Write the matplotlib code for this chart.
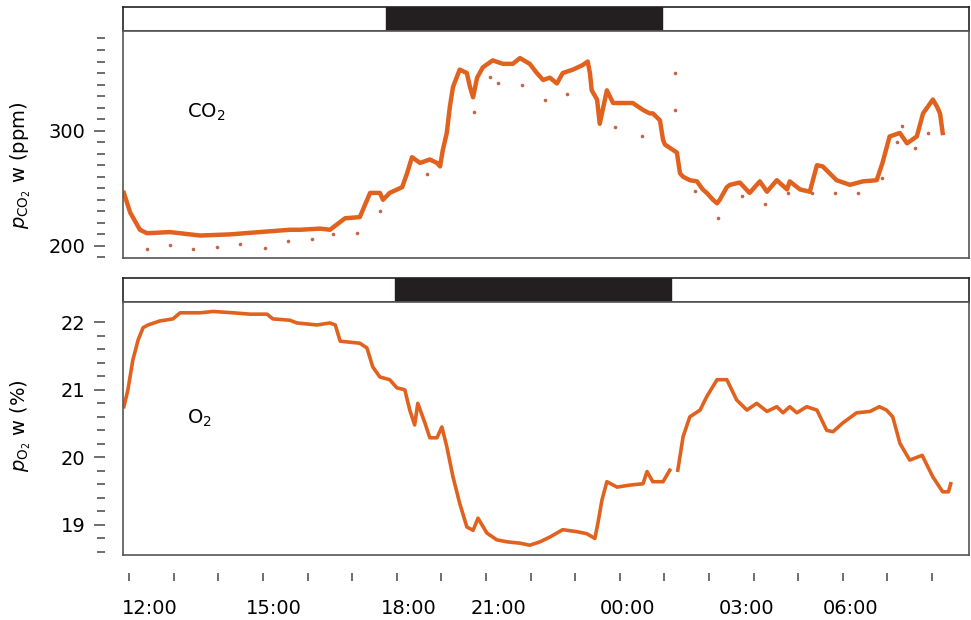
import numpy as np
import matplotlib
matplotlib.use("Agg")
import matplotlib.pyplot as plt
from matplotlib.ticker import FixedLocator

plt.rcParams['font.family'] = ['DejaVu Sans']
plt.rcParams['mathtext.fontset'] = 'dejavusans'

# x in hours, one hour per small tick on the time axis
co2_h = [-0.12, 0.02, 0.24, 0.40, 0.91, 1.59, 2.26, 2.93, 3.60, 3.83, 4.28, 4.50, 4.84,
         5.17, 5.40, 5.62, 5.69, 5.84, 6.12, 6.23, 6.34, 6.52, 6.74, 6.90, 6.97, 7.03,
         7.12, 7.19, 7.26, 7.41, 7.57, 7.64, 7.71, 7.80, 7.93, 8.15, 8.38, 8.60, 8.76,
         8.98, 9.14, 9.28, 9.43, 9.59, 9.72, 9.95, 10.17, 10.28, 10.33, 10.37, 10.49,
         10.55, 10.71, 10.85, 11.07, 11.29, 11.52, 11.67, 11.74, 11.90, 11.97, 12.01,
         12.28, 12.35, 12.42, 12.57, 12.73, 12.86, 12.95, 13.09, 13.18, 13.24, 13.40,
         13.47, 13.69, 13.91, 14.14, 14.30, 14.52, 14.75, 14.81, 15.04, 15.26, 15.42,
         15.55, 15.86, 16.16, 16.45, 16.76, 16.89, 17.05, 17.28, 17.44, 17.66, 17.80,
         18.02, 18.11, 18.18, 18.24]
co2_ppm = [246, 229, 214, 211, 212, 209, 210, 212, 214, 214, 215, 214, 224,
           225, 246, 246, 240, 246, 251, 263, 277, 272, 275, 272, 269, 283,
           298, 321, 338, 353, 350, 338, 329, 346, 355, 361, 358, 358, 363,
           358, 350, 344, 346, 341, 350, 353, 357, 360, 350, 335, 327,
           306, 335, 324, 324, 324, 318, 315, 315, 309, 292, 288,
           281, 263, 260, 257, 256, 249, 246, 240, 237, 240, 251,
           253, 255, 246, 256, 247, 257, 249, 256, 249, 247, 270,
           269, 257, 253, 256, 257, 272, 295, 298, 289, 295, 315,
           327, 321, 315, 298]

co2_out_h = [0.40, 0.91, 1.43, 1.97, 2.48, 3.04, 3.56, 4.10, 4.57, 5.10, 5.62, 6.68,
             7.73, 8.09, 8.27, 8.80, 9.32, 9.81, 10.89, 11.50, 12.24, 12.24, 13.20,
             12.68, 13.74, 14.26, 14.77, 15.30, 15.82, 16.34, 16.87, 17.21, 17.32,
             17.62, 17.91]
co2_out_ppm = [197, 201, 197, 199, 202, 198, 204, 206, 210, 211, 230, 262,
               316, 347, 341, 340, 327, 332, 303, 295, 350, 318, 224,
               248, 243, 236, 246, 246, 246, 246, 259, 290, 304,
               285, 298]

o2_h = [-0.12, -0.03, 0.08, 0.20, 0.31, 0.42, 0.69, 0.98, 1.14, 1.59, 1.88, 2.33, 2.71,
        3.09, 3.22, 3.60, 3.76, 4.21, 4.50, 4.62, 4.73, 5.17, 5.33, 5.46, 5.62, 5.84,
        6.00, 6.18, 6.29, 6.40, 6.47, 6.63, 6.74, 6.90, 7.01, 7.12, 7.26, 7.41, 7.57,
        7.71, 7.82, 8.02, 8.24, 8.47, 8.76, 8.98, 9.21, 9.43, 9.72, 10.04, 10.26,
        10.44, 10.51, 10.60, 10.71, 10.94, 11.23, 11.52, 11.61, 11.74, 11.97, 12.12,
        12.20, 12.30, 12.42, 12.57, 12.80, 12.95, 13.18, 13.40, 13.62, 13.85, 14.07,
        14.30, 14.52, 14.66, 14.81, 14.97, 15.19, 15.42, 15.64, 15.78, 16.00, 16.31,
        16.61, 16.82, 16.98, 17.12, 17.28, 17.50, 17.78, 17.87, 18.02, 18.24, 18.37,
        18.42]
o2_pct = [20.75, 21.0, 21.44, 21.74, 21.92, 21.96, 22.02, 22.05, 22.14, 22.14, 22.16,
          22.14, 22.12, 22.12, 22.05, 22.03, 21.99, 21.96, 21.99, 21.96, 21.72, 21.69,
          21.62, 21.34, 21.19, 21.15, 21.03, 21.0, 20.70, 20.48, 20.80, 20.51, 20.29,
          20.29, 20.45, 20.16, 19.71, 19.32, 18.97, 18.92, 19.10, 18.88, 18.78, 18.75,
          18.73, 18.70, 18.75, 18.82, 18.93, 18.90, 18.87, 18.80, 19.03, 19.37, 19.64,
          19.56, 19.59, 19.61, 19.79, 19.64, 19.64, 19.81, np.nan, 19.81, 20.31, 20.60,
          20.70, 20.90, 21.15, 21.15, 20.85, 20.70, 20.80, 20.68, 20.75, 20.66, 20.75,
          20.66, 20.75, 20.70, 20.40, 20.38, 20.51, 20.66, 20.68, 20.75, 20.70, 20.60,
          20.21, 19.96, 20.03, 19.91, 19.71, 19.49, 19.49, 19.61]

night_co2 = (5.76, 11.95)
night_o2 = (5.96, 12.14)

time_labels = ['12:00', '15:00', '18:00', '21:00', '00:00', '03:00', '06:00']
time_label_pos = [0.45, 3.24, 6.27, 8.29, 11.18, 13.85, 16.18]

orange = '#E0621E'
xlim = (-0.14, 18.83)

fig = plt.figure(figsize=(9.71, 6.2), dpi=100)
L, W = 123 / 971, 846 / 971


def pbox(top, bottom):
    return [L, 1 - bottom / 620, W, (bottom - top) / 620]


def night_bar(rect, night):
    bar = fig.add_axes(rect)
    bar.axvspan(night[0], night[1], color='#231f20')
    bar.set_xlim(xlim)
    bar.set_xticks([])
    bar.set_yticks([])
    for s in bar.spines.values():
        s.set_color('#222222')
        s.set_linewidth(1.2)
    return bar


def frame(ax):
    ax.set_xlim(xlim)
    ax.tick_params(left=False, bottom=False, labelleft=False, labelbottom=False)
    for s in ax.spines.values():
        s.set_color('#555555')
        s.set_linewidth(1.2)


# CO2 panel
night_bar(pbox(7, 31), night_co2)
ax1 = fig.add_axes(pbox(31, 258))
ax1.plot(co2_h, co2_ppm, color=orange, lw=3.2, solid_joinstyle='round')
ax1.plot(co2_out_h, co2_out_ppm, 'o', color='#c0654a', ms=2.6, mew=0)
ax1.set_ylim(189.5, 386.5)
frame(ax1)
ax1.text(1.29, 316, r'CO$_2$', fontsize=14, va='center', ha='left')
sy1 = ax1.secondary_yaxis(-0.0213)
sy1.spines['left'].set_visible(False)
sy1.yaxis.set_major_locator(FixedLocator([200, 300]))
sy1.yaxis.set_minor_locator(FixedLocator(list(range(190, 381, 10))))
sy1.tick_params(which='major', length=8, width=1.2, color='#555555', pad=6, labelsize=14)
sy1.tick_params(which='minor', length=6, width=1.2, color='#555555')
fig.text(21 / 971, 1 - 165 / 620, r'$p_{\mathrm{CO}_2}$ w (ppm)', rotation=90,
         ha='center', va='center', fontsize=14)

# O2 panel
night_bar(pbox(278, 302), night_o2)
ax2 = fig.add_axes(pbox(302, 555))
ax2.plot(o2_h, o2_pct, color=orange, lw=2.6)
ax2.set_ylim(18.555, 22.30)
frame(ax2)
ax2.text(1.29, 20.58, r'O$_2$', fontsize=14, va='center', ha='left')
sy2 = ax2.secondary_yaxis(-0.0213)
sy2.spines['left'].set_visible(False)
sy2.yaxis.set_major_locator(FixedLocator([19, 20, 21, 22]))
sy2.yaxis.set_minor_locator(FixedLocator([18.6, 18.8, 19.2, 19.4, 19.6, 19.8, 20.2, 20.4,
                                          20.6, 20.8, 21.2, 21.4, 21.6, 21.8]))
sy2.tick_params(which='major', length=8, width=1.2, color='#555555', pad=6, labelsize=14)
sy2.tick_params(which='minor', length=6, width=1.2, color='#555555')
fig.text(21 / 971, 1 - 426 / 620, r'$p_{\mathrm{O}_2}$ w (%)', rotation=90,
         ha='center', va='center', fontsize=14)

# time axis below the O2 panel
sx = ax2.secondary_xaxis(-0.071)
sx.spines['bottom'].set_visible(False)
sx.xaxis.set_major_locator(FixedLocator(list(range(0, 19))))
sx.xaxis.set_major_formatter(plt.NullFormatter())
sx.set_xticks(time_label_pos, time_labels, minor=True)
sx.tick_params(which='major', length=6, width=1.2, color='#555555')
sx.tick_params(which='minor', length=0, pad=19, labelsize=14)

fig.savefig('out.png', dpi=100)
